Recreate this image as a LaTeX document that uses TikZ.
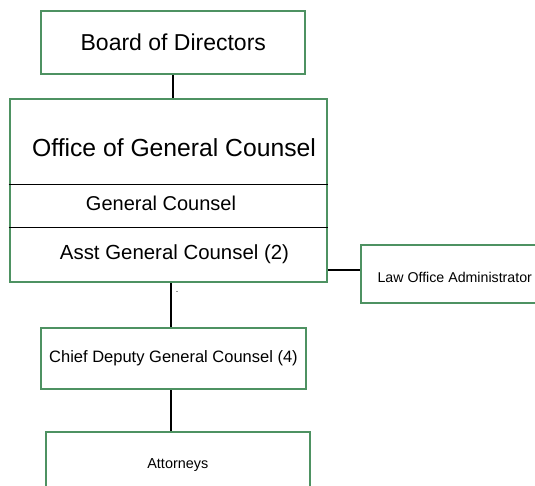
\documentclass[tikz,border=0pt]{standalone}
\usepackage{fontspec}
\setmainfont{Liberation Sans}
\usepackage{tikz}

\definecolor{boxgreen}{RGB}{78,146,98}

\begin{document}
\begin{tikzpicture}[x=1pt,y=-1pt,
        orgbox/.style={draw=boxgreen,line width=2.2pt,rectangle,inner sep=0pt,fill=white},
        link/.style={black,line width=2pt},
        divider/.style={black,line width=1pt}]
        % fix the picture size as the reference
        \useasboundingbox (0,0) rectangle (535,485);
        \clip (0,0) rectangle (535,485);

        % the boxes of the chart
        \node[orgbox,minimum width=264pt,minimum height=63pt,
              font=\fontsize{23}{27}\selectfont] (board) at (173.3,42.5) {Board of Directors};
        \node[orgbox,minimum width=317pt,minimum height=183pt] (office) at (168.3,190.5) {};
        \node[orgbox,minimum width=200pt,minimum height=58pt] (law) at (461,274) {};
        \node[orgbox,minimum width=265pt,minimum height=61pt,
              font=\fontsize{16.5}{20}\selectfont] (chief) at (173.5,358.5) {Chief Deputy General Counsel (4)};
        \node[orgbox,minimum width=264pt,minimum height=66pt,
              font=\fontsize{14.4}{17}\selectfont] (attorneys) at (177.8,465) {Attorneys};

        % the three rows inside the office box
        \node[font=\fontsize{24.7}{29}\selectfont] (ogc) at (174,148) {Office of General Counsel};
        \node[font=\fontsize{20}{24}\selectfont] (gc) at (161,203.5) {General Counsel};
        \node[font=\fontsize{20.4}{24}\selectfont] (agc) at (174.5,254) {Asst General Counsel (2)};
        \coordinate (rowa) at (0,184);
        \coordinate (rowb) at (0,227);
        \draw[divider] (office.west |- rowa) -- (office.east |- rowa);
        \draw[divider] (office.west |- rowb) -- (office.east |- rowb);

        % text of the side box sits left in it
        \node[anchor=west,font=\fontsize{14.2}{17}\selectfont] (lawtext) at (374,277.6) {Law Office Administrator};

        % the small dot under the office box
        \node[anchor=base,inner sep=0pt,font=\fontsize{9}{10}\selectfont] (dot) at (177,292) {.};

        % connectors
        \coordinate (spine) at (170.6,0);
        \coordinate (lawlink) at (0,270);
        \draw[link] (board.south) -- (board.south |- office.north);
        \draw[link] (office.east |- lawlink) -- (law.west |- lawlink);
        \draw[link] (office.south -| spine) -- (chief.north -| spine);
        \draw[link] (chief.south -| spine) -- (attorneys.north -| spine);
    \end{tikzpicture}
\end{document}
